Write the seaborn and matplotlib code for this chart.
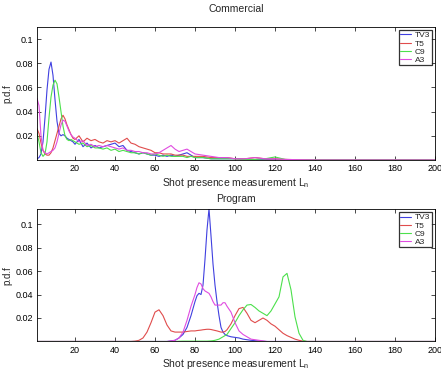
import numpy as np
import pandas as pd
import matplotlib
matplotlib.use("Agg")
import matplotlib.pyplot as plt
import seaborn as sns

series = ["TV3", "T5", "C9", "A3"]
colors = {"TV3": "#4040e0", "T5": "#e04c4c", "C9": "#4ce04c", "A3": "#e04ce0"}

# ---------------- Commercial ----------------
x_com = [1, 2, 3, 4, 5, 6, 7, 8, 9, 10, 11, 12, 13, 14, 15, 16, 17, 18, 19, 20,
         22, 24, 26, 28, 30, 32, 34, 36, 38, 40, 42, 44, 46, 48, 50, 52, 54, 56, 58, 60,
         62, 64, 66, 68, 70, 72, 74, 76, 78, 80, 84, 88, 92, 96, 100,
         105, 110, 115, 120, 125, 130, 140, 160, 180, 200]
com_tv3 = [0.001, 0.002, 0.005, 0.015, 0.035, 0.058, 0.075, 0.081, 0.07, 0.05, 0.032, 0.022, 0.02, 0.021, 0.02, 0.018, 0.017, 0.016, 0.015, 0.013,
           0.017, 0.011, 0.014, 0.01, 0.012, 0.01, 0.011, 0.012, 0.013, 0.014, 0.011, 0.012, 0.008, 0.007, 0.006, 0.005, 0.006, 0.005, 0.004, 0.004,
           0.003, 0.004, 0.003, 0.004, 0.003, 0.004, 0.005, 0.006, 0.004, 0.002, 0.002, 0.001, 0.001, 0.001, 0.001,
           0.0005, 0.0003, 0.0002, 0.0001, 0.0001, 0.0, 0.0, 0.0, 0.0, 0.0]
com_t5 = [0.026, 0.022, 0.014, 0.008, 0.005, 0.004, 0.004, 0.006, 0.01, 0.016, 0.022, 0.028, 0.034, 0.037, 0.034, 0.029, 0.025, 0.021, 0.018, 0.017,
          0.02, 0.015, 0.018, 0.016, 0.017, 0.015, 0.014, 0.016, 0.015, 0.016, 0.014, 0.016, 0.018, 0.014, 0.013, 0.011, 0.01, 0.009, 0.008, 0.006,
          0.006, 0.005, 0.005, 0.005, 0.004, 0.004, 0.004, 0.003, 0.003, 0.003, 0.003, 0.002, 0.002, 0.002, 0.001,
          0.001, 0.002, 0.001, 0.001, 0.0005, 0.0003, 0.0, 0.0, 0.0, 0.0]
com_c9 = [0.022, 0.015, 0.006, 0.003, 0.005, 0.015, 0.035, 0.052, 0.062, 0.066, 0.063, 0.052, 0.04, 0.028, 0.02, 0.017, 0.016, 0.017, 0.016, 0.015,
          0.013, 0.014, 0.011, 0.012, 0.01, 0.01, 0.009, 0.01, 0.008, 0.009, 0.007, 0.008, 0.007, 0.006, 0.006, 0.005, 0.006, 0.005, 0.004, 0.005,
          0.004, 0.003, 0.004, 0.003, 0.003, 0.003, 0.003, 0.002, 0.003, 0.002, 0.002, 0.001, 0.001, 0.001, 0.001,
          0.0005, 0.0005, 0.001, 0.0025, 0.0005, 0.0, 0.0, 0.0, 0.0, 0.0]
com_a3 = [0.051, 0.045, 0.02, 0.008, 0.006, 0.005, 0.006, 0.007, 0.008, 0.01, 0.015, 0.022, 0.029, 0.033, 0.032, 0.028, 0.024, 0.021, 0.019, 0.018,
          0.015, 0.016, 0.012, 0.013, 0.011, 0.012, 0.011, 0.012, 0.011, 0.01, 0.009, 0.01, 0.008, 0.008, 0.007, 0.007, 0.006, 0.006, 0.005, 0.005,
          0.006, 0.008, 0.01, 0.012, 0.009, 0.007, 0.008, 0.009, 0.007, 0.005, 0.004, 0.003, 0.002, 0.002, 0.001,
          0.001, 0.002, 0.001, 0.001, 0.0005, 0.0003, 0.0, 0.0, 0.0, 0.0]

# ---------------- Program ----------------
x_prog = [1, 20, 40, 46, 48, 50, 52, 54, 56, 58, 60, 62, 64, 66, 68, 70, 72, 74, 76, 78, 80,
          81, 82, 83, 84, 85, 86, 87, 88, 89, 90, 91, 92, 93, 94, 95,
          96, 98, 100, 102, 104, 106, 108, 110, 112, 114, 116, 118, 120, 122, 124, 126, 128, 130,
          132, 134, 136, 138, 140, 160, 180, 200]
prog_tv3 = [0, 0, 0, 0, 0, 0, 0, 0, 0, 0, 0, 0, 0, 0, 0.0005, 0.001, 0.003, 0.006, 0.012, 0.022, 0.034,
            0.039, 0.041, 0.04, 0.048, 0.07, 0.095, 0.113, 0.09, 0.066, 0.048, 0.034, 0.022, 0.012, 0.008, 0.006,
            0.005, 0.004, 0.0035, 0.003, 0.002, 0.0015, 0.001, 0.0007, 0.0004, 0.0002, 0, 0, 0, 0, 0, 0, 0, 0,
            0, 0, 0, 0, 0, 0, 0, 0]
prog_t5 = [0, 0, 0, 0, 0, 0.0003, 0.001, 0.003, 0.008, 0.016, 0.025, 0.027, 0.022, 0.014, 0.009, 0.008, 0.008, 0.008, 0.0085, 0.009, 0.009,
           0.0093, 0.0095, 0.0097, 0.01, 0.0102, 0.0104, 0.0104, 0.0102, 0.0098, 0.0094, 0.009, 0.0085, 0.008, 0.008, 0.0085,
           0.01, 0.015, 0.022, 0.028, 0.029, 0.024, 0.018, 0.016, 0.018, 0.02, 0.018, 0.015, 0.013, 0.01, 0.007, 0.005, 0.0035, 0.002,
           0.001, 0.0003, 0, 0, 0, 0, 0, 0]
prog_c9 = [0, 0, 0, 0, 0, 0, 0, 0, 0, 0, 0, 0, 0, 0, 0, 0, 0.0002, 0.0003, 0.0003, 0.0003, 0.0003,
           0.0003, 0.0003, 0.0003, 0.0003, 0.0003, 0.0003, 0.0004, 0.0005, 0.0007, 0.001, 0.0015, 0.002, 0.003, 0.004, 0.005,
           0.006, 0.011, 0.016, 0.022, 0.027, 0.031, 0.0315, 0.029, 0.026, 0.024, 0.022, 0.026, 0.032, 0.038, 0.055, 0.058, 0.044, 0.021,
           0.007, 0.001, 0, 0, 0, 0, 0, 0]
prog_a3 = [0, 0, 0, 0, 0, 0, 0, 0, 0, 0, 0, 0, 0, 0, 0.0005, 0.001, 0.003, 0.008, 0.018, 0.03, 0.04,
           0.046, 0.05, 0.049, 0.045, 0.043, 0.042, 0.041, 0.038, 0.034, 0.031, 0.031, 0.031, 0.031, 0.033, 0.033,
           0.03, 0.025, 0.016, 0.009, 0.006, 0.004, 0.002, 0.0015, 0.001, 0.0005, 0, 0, 0, 0, 0, 0, 0, 0,
           0, 0, 0, 0, 0, 0, 0, 0]

xticks = [20, 40, 60, 80, 100, 120, 140, 160, 180, 200]
yticks = [0.02, 0.04, 0.06, 0.08, 0.1]


def long_df(x, ys):
    frames = []
    for name, y in zip(series, ys):
        frames.append(pd.DataFrame({"x": x, "y": y, "series": name}))
    return pd.concat(frames, ignore_index=True)


df_com = long_df(x_com, [com_tv3, com_t5, com_c9, com_a3])
df_prog = long_df(x_prog, [prog_tv3, prog_t5, prog_c9, prog_a3])

sns.set_style("white")
plt.rcParams["font.family"] = ["Liberation Sans", "DejaVu Sans"]
plt.rcParams["mathtext.fontset"] = "custom"
plt.rcParams["mathtext.rm"] = "Liberation Sans"
plt.rcParams["mathtext.it"] = "Liberation Sans"

fig = plt.figure(figsize=(4.41, 3.77), dpi=100)
ax1 = fig.add_axes([0.0839, 0.5756, 0.9025, 0.3528])
ax2 = fig.add_axes([0.0839, 0.0942, 0.9025, 0.3514])

for ax, df, title, ymax, tpad in [(ax1, df_com, "Commercial", 0.11, 11),
                                  (ax2, df_prog, "Program", 0.1128, 5)]:
    sns.lineplot(data=df, x="x", y="y", hue="series", hue_order=series, palette=colors,
                 estimator=None, sort=True, linewidth=0.8, ax=ax)
    ax.set_xlim(1, 200)
    ax.set_ylim(0, ymax)
    ax.set_xticks(xticks)
    ax.set_yticks(yticks)
    ax.set_yticklabels(["0.02", "0.04", "0.06", "0.08", "0.1"])
    ax.tick_params(axis="both", which="both", direction="in", length=3, width=0.5,
                   labelsize=6.5, top=True, right=True, bottom=True, left=True, pad=3,
                   colors="black")
    for sp in ax.spines.values():
        sp.set_visible(True)
        sp.set_color("black")
        sp.set_linewidth(0.6)
    ax.set_title(title, fontsize=7.5, pad=tpad)
    ax.set_xlabel(r"Shot presence measurement L$_\mathrm{n}$", fontsize=7.5, labelpad=2)
    ax.set_ylabel("p.d.f", fontsize=7, labelpad=2)
    h, l = ax.get_legend_handles_labels()
    leg = ax.legend(h, l, loc="upper right", fontsize=6, frameon=True, fancybox=False,
                    handlelength=1.3, handletextpad=0.5, borderpad=0.15, labelspacing=0.05,
                    borderaxespad=0.4)
    leg.get_frame().set_edgecolor("black")
    leg.get_frame().set_linewidth(0.9)

fig.savefig("out.png", dpi=100)
